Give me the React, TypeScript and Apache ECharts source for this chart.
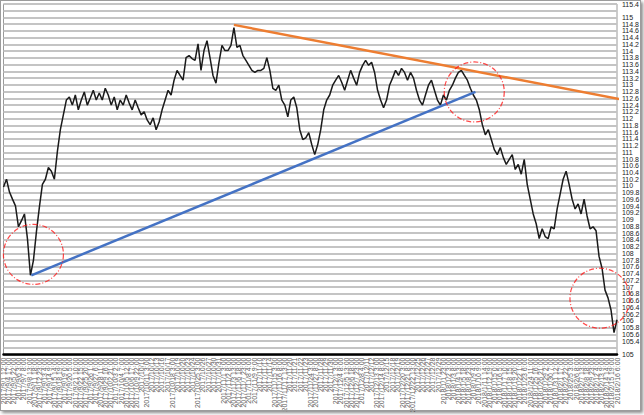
import React, { useEffect, useRef } from "react";
import * as echarts from "echarts";

// Price trace (close values), Sep 1 2017 -> Feb 16 2018
const CLOSES: number[] = [
  109.97, 110.2, 109.82, 109.61, 109.41, 108.79, 108.97, 109.17, 108.44, 107.35,
  107.79, 108.64, 109.38, 110.05, 110.2, 110.55, 110.44, 110.2, 111.02, 111.67,
  112.11, 112.55, 112.64, 112.4, 112.7, 112.26, 112.55, 112.79, 112.4, 112.61,
  112.84, 112.55, 112.76, 112.55, 112.9, 112.7, 112.4, 112.64, 112.26, 112.55,
  112.4, 112.7, 112.46, 112.26, 112.55, 112.32, 112.11, 112.2, 111.96, 111.82,
  112.02, 111.67, 111.9, 112.26, 112.55, 112.84, 112.7, 113.14, 113.43, 113.28,
  113.14, 113.81, 113.87, 113.78, 113.73, 114.22, 113.43, 114.02, 114.31, 113.81,
  113.28, 113.05, 113.67, 114.17, 114.02, 114.02, 114.17, 114.7, 114.11, 114.17,
  113.87, 113.73, 113.58, 113.43, 113.37, 113.43, 113.43, 113.49, 113.81, 113.43,
  112.9, 112.84, 112.99, 112.55, 112.4, 112.05, 112.55, 112.64, 112.32, 111.67,
  111.38, 111.43, 111.58, 111.23, 110.93, 111.23, 111.67, 112.26, 112.55, 112.7,
  112.99, 113.14, 113.28, 113.08, 112.84, 113.14, 113.43, 113.2, 112.99, 113.37,
  113.58, 113.73, 113.58, 113.67, 113.37, 112.84, 112.55, 112.32, 112.55, 112.99,
  113.2, 113.43, 113.28, 113.49, 113.37, 113.14, 113.37, 113.2, 112.84, 112.55,
  112.4, 112.7, 112.99, 113.14, 112.84, 112.55, 112.4, 112.7, 112.55, 112.84,
  112.99, 113.2, 113.37, 113.43, 113.28, 113.14, 112.9, 112.7, 112.55, 112.26,
  111.82, 111.52, 111.67, 111.38, 111.08, 110.93, 111.14, 110.85, 110.64, 110.79,
  110.93, 110.49, 110.64, 110.35, 110.79, 110.05, 109.61, 109.17, 108.88, 108.44,
  108.73, 108.5, 108.44, 108.79, 108.73, 109.32, 109.76, 110.2, 110.44, 110.05,
  109.61, 109.32, 109.47, 109.17, 109.61, 109.11, 108.73, 108.79, 108.67, 107.91,
  107.56, 106.91, 106.68, 106.32, 105.65, 106.03,
];

// Trend lines: [bar index, price]
const ORANGE_LINE: number[][] = [
  [77, 114.78],
  [209.3, 112.52],
];
const BLUE_LINE: number[][] = [
  [9.3, 107.35],
  [157.7, 112.79],
];

// Highlight circles: [bar index, price]
const CIRCLES: number[][] = [
  [10, 107.97],
  [157.3, 112.79],
  [199.3, 106.67],
];

// Y axis range
const Y_MIN = 105;
const Y_MAX = 115.4;
const Y_STEP = 0.2;

// X tick labels
const TICK_LABELS: string[] = [
  "2017/9/1 12:00", "2017/9/4 17:00", "2017/9/5 22:00", "2017/9/6 3:00", "2017/9/7 8:00",
  "2017/9/8 13:00", "2017/9/11 18:00", "2017/9/12 23:00", "2017/9/13 4:00", "2017/9/14 9:00",
  "2017/9/15 14:00", "2017/9/18 19:00", "2017/9/19 0:00", "2017/9/20 5:00", "2017/9/21 10:00",
  "2017/9/22 15:00", "2017/9/25 20:00", "2017/9/26 1:00", "2017/9/27 6:00", "2017/9/28 11:00",
  "2017/9/29 16:00",
  "2017/10/2 21:00", "2017/10/3 2:00", "2017/10/4 7:00", "2017/10/5 12:00", "2017/10/6 17:00",
  "2017/10/9 22:00", "2017/10/10", "2017/10/11 3:00", "2017/10/12", "2017/10/13",
  "2017/10/16", "2017/10/17", "2017/10/18 3:00", "2017/10/19", "2017/10/20",
  "2017/10/23", "2017/10/24", "2017/10/25 3:00", "2017/10/26", "2017/10/27",
  "2017/10/30", "2017/10/31",
  "2017/11/1 3:00", "2017/11/2 8:00", "2017/11/3 13:00", "2017/11/6 18:00", "2017/11/7 23:00",
  "2017/11/8 4:00", "2017/11/9 9:00", "2017/11/10", "2017/11/13", "2017/11/14",
  "2017/11/15 3:00", "2017/11/16 8:00", "2017/11/17 13:00", "2017/11/20", "2017/11/21",
  "2017/11/22", "2017/11/23", "2017/11/24 3:00", "2017/11/27 8:00", "2017/11/28",
  "2017/11/29", "2017/11/30",
  "2017/12/1 3:00", "2017/12/4 8:00", "2017/12/5 13:00", "2017/12/6 18:00", "2017/12/7 23:00",
  "2017/12/8 4:00", "2017/12/11", "2017/12/12", "2017/12/13 3:00", "2017/12/14 8:00",
  "2017/12/15", "2017/12/18", "2017/12/19", "2017/12/20 3:00", "2017/12/21 8:00",
  "2017/12/22 13:00", "2017/12/25", "2017/12/26", "2017/12/27", "2017/12/28",
  "2017/12/29",
  "2018/1/1 23:00", "2018/1/2 3:00", "2018/1/3 8:00", "2018/1/4 13:00", "2018/1/5 18:00",
  "2018/1/8 23:00", "2018/1/9 4:00", "2018/1/10 9:00", "2018/1/11 14:00", "2018/1/12 19:00",
  "2018/1/15 0:00", "2018/1/16 5:00", "2018/1/17 10:00", "2018/1/18 15:00", "2018/1/19 20:00",
  "2018/1/22 1:00", "2018/1/23 6:00", "2018/1/24 11:00", "2018/1/25 16:00", "2018/1/26 21:00",
  "2018/1/29 2:00", "2018/1/30 7:00", "2018/1/31 12:00",
  "2018/2/1 17:00", "2018/2/2 22:00", "2018/2/5 3:00", "2018/2/6 8:00", "2018/2/7 13:00",
  "2018/2/8 18:00", "2018/2/9 23:00", "2018/2/12 4:00", "2018/2/13 9:00", "2018/2/14 14:00",
  "2018/2/15 19:00", "2018/2/16 6:00",
];

export default function App() {
  const ref = useRef<HTMLDivElement>(null);

  useEffect(() => {
    document.body.style.margin = "0";
    if (!ref.current) return;
    const chart = echarts.init(ref.current, null, { renderer: "svg" });
    const font = "'Liberation Sans', Arial, sans-serif";
    chart.setOption({
      animation: false,
      backgroundColor: "#ffffff",
      grid: {
        left: 2,
        right: 27,
        top: 4,
        bottom: 59,
        show: true,
        borderColor: "#9a9a9a",
        borderWidth: 1,
        containLabel: false,
      },
      xAxis: [
        {
          type: "category",
          data: TICK_LABELS,
          boundaryGap: false,
          position: "bottom",
          axisLine: { show: true, lineStyle: { color: "#000", width: 2.5 } },
          axisTick: { show: false },
          splitLine: { show: false },
          axisLabel: {
            interval: 0,
            rotate: 90,
            fontSize: 7,
            color: "#606060",
            margin: 3,
            fontFamily: font,
          },
        },
        {
          type: "value",
          min: 0,
          max: CLOSES.length - 1,
          show: false,
          position: "bottom",
          splitLine: { show: false },
        },
      ],
      yAxis: {
        type: "value",
        position: "right",
        min: Y_MIN,
        max: Y_MAX,
        interval: Y_STEP,
        axisLine: { show: false },
        axisTick: { show: false },
        splitLine: { show: true, lineStyle: { color: "#c4c4c4", width: 2 } },
        axisLabel: {
          fontSize: 7,
          color: "#222",
          margin: 5,
          fontFamily: font,
          showMinLabel: true,
          showMaxLabel: true,
          hideOverlap: false,
          formatter: (v: number) => String(Number(v.toFixed(1))),
        },
      },
      series: [
        {
          type: "line",
          xAxisIndex: 1,
          data: CLOSES.map((v, i) => [i, v]),
          symbol: "none",
          lineStyle: { color: "#1a1a1a", width: 1.5 },
          silent: true,
          z: 2,
        },
        {
          type: "line",
          xAxisIndex: 1,
          data: ORANGE_LINE,
          symbol: "none",
          clip: false,
          lineStyle: { color: "#ED7D31", width: 2.5 },
          silent: true,
          z: 3,
        },
        {
          type: "line",
          xAxisIndex: 1,
          data: BLUE_LINE,
          symbol: "none",
          clip: false,
          lineStyle: { color: "#4472C4", width: 2.5 },
          silent: true,
          z: 3,
        },
        {
          type: "scatter",
          xAxisIndex: 1,
          data: CIRCLES,
          symbol: "circle",
          symbolSize: 60,
          clip: false,
          silent: true,
          itemStyle: {
            color: "rgba(0,0,0,0)",
            borderColor: "#ff1a1a",
            borderWidth: 1.2,
            borderType: [5, 2, 1, 2],
          },
          z: 4,
        },
      ],
    });
    return () => chart.dispose();
  }, []);

  return (
    <div style={{ position: "fixed", left: 0, top: 0, width: 644, height: 415, background: "#fff" }}>
      <div ref={ref} style={{ position: "absolute", left: 0, top: 0, width: 644, height: 415 }} />
      <div
        style={{
          position: "absolute",
          left: 0,
          top: 0,
          width: 639,
          height: 409,
          border: "1px solid #9c9c9c",
          boxShadow: "2px 2px 3px rgba(0,0,0,0.45)",
          pointerEvents: "none",
        }}
      />
    </div>
  );
}
